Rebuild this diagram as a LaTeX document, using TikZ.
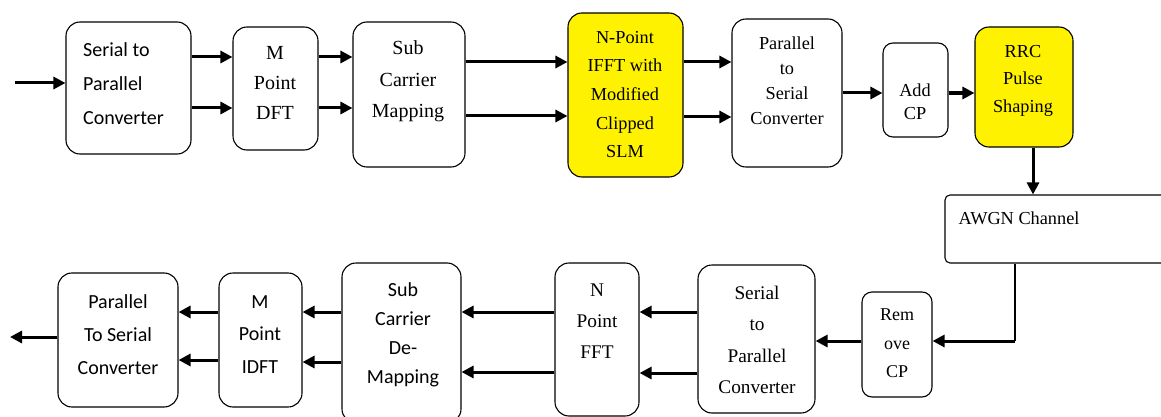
\documentclass[tikz,border=0pt]{standalone}
\usepackage{fontspec}
\setmainfont{Liberation Serif}
\newfontfamily\calfont{Carlito}
\newfontfamily\timesfont{Liberation Serif}
\usetikzlibrary{arrows.meta}
\begin{document}
\begin{tikzpicture}[x=1pt,y=-1pt,
  box/.style={draw=black,line width=1.1pt,rounded corners=14pt,inner sep=0pt},
  ybox/.style={box,fill=yellow},
  txt/.style={inner sep=0pt,align=center,text=black},
  arr/.style={line width=3pt,-{Triangle[length=12pt,width=12pt]}},
  thinline/.style={line width=1.3pt}]
\useasboundingbox (0,0) rectangle (1161,417);
% ---------- top row boxes ----------
\node[box,minimum width=125pt,minimum height=132pt] (s2p) at (128.5,88) {};
\node[box,minimum width=85pt,minimum height=123pt] (dft) at (275.5,88.5) {};
\node[box,minimum width=112pt,minimum height=145pt] (scm) at (409,94.5) {};
\node[ybox,minimum width=115pt,minimum height=164pt] (ifft) at (625.5,95) {};
\node[box,minimum width=110pt,minimum height=148pt] (p2s) at (787,93) {};
\node[box,minimum width=65pt,minimum height=94pt,rounded corners=10pt] (addcp) at (915.5,90) {};
\node[ybox,minimum width=98pt,minimum height=120pt] (rrc) at (1024,87) {};
\node[box,minimum width=230pt,minimum height=68pt,rounded corners=5pt] (awgn) at (1060,229) {};
% ---------- top row texts ----------
\node[txt,align=left,anchor=west,font=\calfont\fontsize{20}{34}\selectfont] (ts2p) at (83,84) {Serial to\\Parallel\\Converter};
\node[txt,font=\timesfont\fontsize{20}{30}\selectfont] (tdft) at (275,83) {M\\Point\\DFT};
\node[txt,font=\timesfont\fontsize{20}{31.5}\selectfont] (tscm) at (408,81.5) {Sub\\Carrier\\Mapping};
\node[txt,font=\timesfont\fontsize{18.3}{28.7}\selectfont] (tifft) at (625,94.5) {N-Point\\IFFT with\\Modified\\Clipped\\SLM};
\node[txt,font=\timesfont\fontsize{18.3}{25}\selectfont] (tp2s) at (787,80.5) {Parallel\\to\\Serial\\Converter};
\node[txt,font=\timesfont\fontsize{18.3}{23}\selectfont] (taddcp) at (915,101.5) {Add\\CP};
\node[txt,font=\timesfont\fontsize{18.3}{27.5}\selectfont] (trrc) at (1023,80.5) {RRC\\Pulse\\Shaping};
\node[txt,font=\timesfont\fontsize{18.3}{22}\selectfont] (tawgn) at (1019,218) {AWGN Channel};
% ---------- bottom row boxes ----------
\node[box,minimum width=120pt,minimum height=134pt] (p2sb) at (118,340) {};
\node[box,minimum width=83pt,minimum height=134pt] (idft) at (260.5,340) {};
\node[box,minimum width=119pt,minimum height=160pt] (scdm) at (401.5,343) {};
\node[box,minimum width=84pt,minimum height=153pt] (fft) at (597,339.5) {};
\node[box,minimum width=117pt,minimum height=148pt] (s2pb) at (756.5,339) {};
\node[box,minimum width=70pt,minimum height=105pt,rounded corners=10pt] (remcp) at (897,344.5) {};
% ---------- bottom row texts ----------
\node[txt,font=\calfont\fontsize{20}{33}\selectfont] (tp2sb) at (118,335) {Parallel\\To Serial\\Converter};
\node[txt,font=\calfont\fontsize{20}{32.5}\selectfont] (tidft) at (260,334.5) {M\\Point\\IDFT};
\node[txt,font=\calfont\fontsize{20}{29}\selectfont] (tscdm) at (403,335) {Sub\\Carrier\\De-\\Mapping};
\node[txt,font=\timesfont\fontsize{19.3}{31}\selectfont] (tfft) at (597,321) {N\\Point\\FFT};
\node[txt,font=\timesfont\fontsize{19.3}{31.5}\selectfont] (ts2pb) at (757,340) {Serial\\to\\Parallel\\Converter};
\node[txt,font=\timesfont\fontsize{18}{28.5}\selectfont] (tremcp) at (897,343.5) {Rem\\ove\\CP};
% ---------- coordinates ----------
\coordinate (in) at (15,83);
\coordinate (out) at (10,337);
\coordinate (bend) at (1015,341);
% ---------- top arrows ----------
\draw[arr] (in) -- (s2p.west |- in);
\draw[arr] (s2p.east |- 0,57) -- (dft.west |- 0,57);
\draw[arr] (s2p.east |- 0,108) -- (dft.west |- 0,108);
\draw[arr] (dft.east |- 0,57) -- (scm.west |- 0,57);
\draw[arr] (dft.east |- 0,108) -- (scm.west |- 0,108);
\draw[arr] (scm.east |- 0,62) -- (ifft.west |- 0,62);
\draw[arr] (scm.east |- 0,116) -- (ifft.west |- 0,116);
\draw[arr] (ifft.east |- 0,62) -- (p2s.west |- 0,62);
\draw[arr] (ifft.east |- 0,117) -- (p2s.west |- 0,117);
\draw[arr] (p2s.east |- 0,93) -- (addcp.west |- 0,93);
\draw[arr,line width=3.6pt] (addcp.east |- 0,93) -- (rrc.west |- 0,93);
\draw[arr] ([xshift=9pt]rrc.south) -- ([xshift=9pt]rrc.south |- awgn.north);
% ---------- channel to receiver ----------
\draw[thinline] (awgn.south -| bend) -- (bend);
\draw[arr] (bend) -- (remcp.east |- bend);
% ---------- bottom arrows ----------
\draw[arr] (remcp.west |- 0,341) -- (s2pb.east |- 0,341);
\draw[arr] (s2pb.west |- 0,312) -- (fft.east |- 0,312);
\draw[arr] (s2pb.west |- 0,373) -- (fft.east |- 0,373);
\draw[arr] (fft.west |- 0,312) -- (scdm.east |- 0,312);
\draw[arr] (fft.west |- 0,372) -- (scdm.east |- 0,372);
\draw[arr] (scdm.west |- 0,312) -- (idft.east |- 0,312);
\draw[arr] (scdm.west |- 0,362) -- (idft.east |- 0,362);
\draw[arr] (idft.west |- 0,312) -- (p2sb.east |- 0,312);
\draw[arr] (idft.west |- 0,360) -- (p2sb.east |- 0,360);
\draw[arr] (p2sb.west |- out) -- (out);
\end{tikzpicture}
\end{document}
